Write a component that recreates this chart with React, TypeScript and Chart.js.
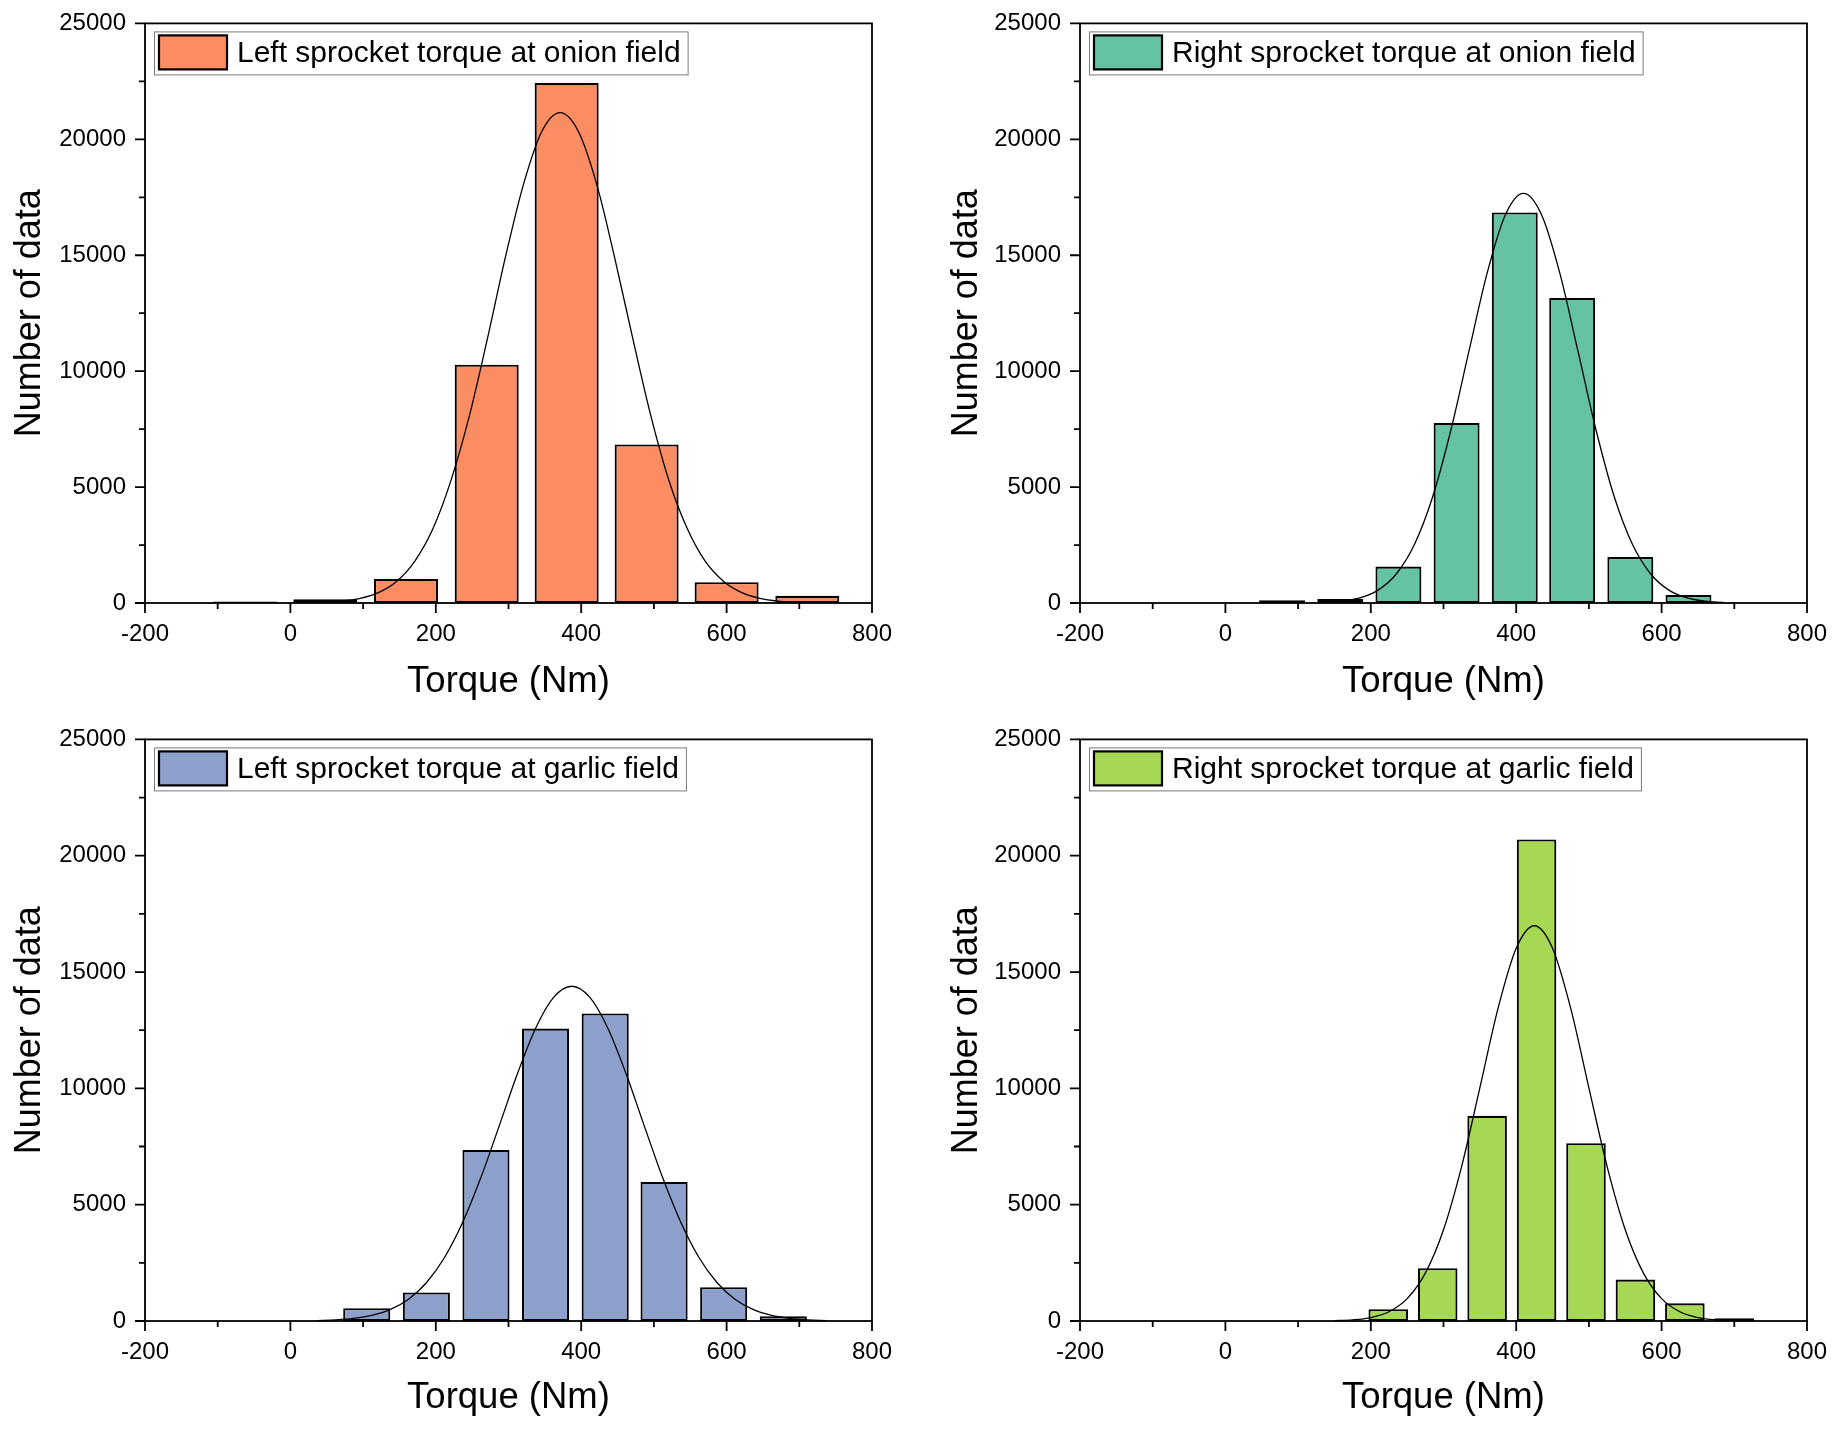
import React, { useEffect, useRef } from "react";
import { Chart, registerables } from "chart.js";

Chart.register(...registerables);

// ---- tick labels ----
const xMajorTicks = [-200, 0, 200, 400, 600, 800];
const xMinorTicks = [-100, 100, 300, 500, 700];
const yMajorTicks = [0, 5000, 10000, 15000, 20000, 25000];
const yMinorTicks = [2500, 7500, 12500, 17500, 22500];

const xAxisTitle = "Torque (Nm)";
const yAxisTitle = "Number of data";

// ---- Left sprocket, onion field ----
const leftOnionLabel = "Left sprocket torque at onion field";
const leftOnionBins = [-62, 48, 159, 270, 380, 490, 600, 711];
const leftOnionCounts = [70, 160, 1040, 10280, 22430, 6840, 900, 310];
const leftOnionFitX = [46, 71, 96, 121, 146, 171, 196, 221, 246, 271, 296, 321, 346, 371, 396, 421, 446, 471, 496, 521, 546, 571, 596, 621, 646, 671, 696];
const leftOnionFitY = [30, 80, 200, 450, 930, 1800, 3200, 5300, 8050, 11400, 14950, 18100, 20350, 21150, 20350, 18100, 14900, 11400, 8050, 5250, 3200, 1780, 930, 450, 200, 80, 30];

// ---- Right sprocket, onion field ----
const rightOnionLabel = "Right sprocket torque at onion field";
const rightOnionBins = [78, 158, 238, 318, 398, 477, 557, 637];
const rightOnionCounts = [120, 175, 1570, 7765, 16845, 13160, 1980, 350];
const rightOnionFitX = [135, 160, 185, 210, 235, 260, 285, 310, 335, 360, 385, 410, 435, 460, 485, 510, 535, 560, 585, 610, 635, 660, 685];
const rightOnionFitY = [25, 80, 220, 555, 1250, 2520, 4570, 7440, 10860, 14230, 16740, 17670, 16740, 14230, 10860, 7440, 4570, 2520, 1250, 555, 220, 80, 25];

// ---- Left sprocket, garlic field ----
const leftGarlicLabel = "Left sprocket torque at garlic field";
const leftGarlicBins = [105, 187, 269, 351, 433, 514, 596, 678];
const leftGarlicCounts = [550, 1230, 7350, 12570, 13220, 5980, 1450, 200];
const leftGarlicFitX = [37, 62, 87, 112, 137, 162, 187, 212, 237, 262, 287, 312, 337, 362, 387, 412, 437, 462, 487, 512, 537, 562, 587, 612, 637, 662, 687, 712, 737];
const leftGarlicFitY = [19, 47, 110, 240, 485, 925, 1645, 2730, 4245, 6165, 8365, 10605, 12565, 13910, 14390, 13910, 12565, 10605, 8365, 6165, 4245, 2730, 1645, 925, 485, 240, 110, 47, 19];

// ---- Right sprocket, garlic field ----
const rightGarlicLabel = "Right sprocket torque at garlic field";
const rightGarlicBins = [224, 292, 360, 428, 496, 564, 632, 700];
const rightGarlicCounts = [510, 2270, 8820, 20700, 7640, 1780, 760, 120];
const rightGarlicFitX = [150, 175, 200, 225, 250, 275, 300, 325, 350, 375, 400, 425, 450, 475, 500, 525, 550, 575, 600, 625, 650, 675, 700];
const rightGarlicFitY = [14, 48, 147, 398, 960, 2058, 3923, 6649, 10022, 13437, 16022, 16990, 16022, 13437, 10022, 6649, 3923, 2058, 960, 398, 147, 48, 14];

const FONT = '"Liberation Sans", Arial, sans-serif';

type Panel = {
  label: string;
  color: string;
  bins: number[];
  counts: number[];
  fitX: number[];
  fitY: number[];
  left: number;
  right: number;
  top: number;
  xAxisHeight: number;
  yTitlePad: number;
};

const panels: Panel[] = [
  { label: leftOnionLabel, color: "#FC8D62", bins: leftOnionBins, counts: leftOnionCounts, fitX: leftOnionFitX, fitY: leftOnionFitY, left: 145, right: 48, top: 21, xAxisHeight: 113, yTitlePad: 8 },
  { label: rightOnionLabel, color: "#66C2A5", bins: rightOnionBins, counts: rightOnionCounts, fitX: rightOnionFitX, fitY: rightOnionFitY, left: 160, right: 33, top: 21, xAxisHeight: 113, yTitlePad: 25 },
  { label: leftGarlicLabel, color: "#8DA0CB", bins: leftGarlicBins, counts: leftGarlicCounts, fitX: leftGarlicFitX, fitY: leftGarlicFitY, left: 145, right: 48, top: 22, xAxisHeight: 111, yTitlePad: 8 },
  { label: rightGarlicLabel, color: "#A6D854", bins: rightGarlicBins, counts: rightGarlicCounts, fitX: rightGarlicFitX, fitY: rightGarlicFitY, left: 160, right: 33, top: 22, xAxisHeight: 111, yTitlePad: 25 },
];

const framePlugin = {
  id: "frameTicks",
  afterDatasetsDraw(chart: any) {
    const { ctx, chartArea } = chart;
    const { left, right, top, bottom } = chartArea;
    const xs = chart.scales.x;
    const ys = chart.scales.y;
    ctx.save();
    ctx.strokeStyle = "#000";
    ctx.lineWidth = 1.8;
    ctx.strokeRect(left, top, right - left, bottom - top);
    ctx.beginPath();
    for (const v of xMajorTicks) {
      const p = xs.getPixelForValue(v);
      ctx.moveTo(p, bottom);
      ctx.lineTo(p, bottom + 10);
    }
    for (const v of xMinorTicks) {
      const p = xs.getPixelForValue(v);
      ctx.moveTo(p, bottom);
      ctx.lineTo(p, bottom + 6);
    }
    for (const v of yMajorTicks) {
      const p = ys.getPixelForValue(v);
      ctx.moveTo(left, p);
      ctx.lineTo(left - 10, p);
    }
    for (const v of yMinorTicks) {
      const p = ys.getPixelForValue(v);
      ctx.moveTo(left, p);
      ctx.lineTo(left - 6, p);
    }
    ctx.stroke();
    ctx.restore();
  },
};

const boxLegendPlugin = {
  id: "boxLegend",
  afterDraw(chart: any, _args: any, opts: any) {
    const { ctx, chartArea } = chart;
    const x0 = chartArea.left + 9;
    const y0 = chartArea.top + 8;
    const h = 43;
    ctx.save();
    ctx.font = `30px ${FONT}`;
    const tw = ctx.measureText(opts.text).width;
    const sx = x0 + 5;
    const sy = y0 + 4;
    const sw = 68;
    const sh = 34;
    const tx = sx + sw + 10;
    const w = tx + tw + 7 - x0;
    ctx.fillStyle = "#fff";
    ctx.fillRect(x0, y0, w, h);
    ctx.strokeStyle = "#7a7a7a";
    ctx.lineWidth = 1;
    ctx.strokeRect(x0 + 0.5, y0 + 0.5, w, h);
    ctx.fillStyle = opts.color;
    ctx.fillRect(sx, sy, sw, sh);
    ctx.strokeStyle = "#000";
    ctx.lineWidth = 2.2;
    ctx.strokeRect(sx, sy, sw, sh);
    ctx.fillStyle = "#000";
    ctx.textBaseline = "middle";
    ctx.textAlign = "left";
    ctx.fillText(opts.text, tx, y0 + h / 2 + 1);
    ctx.restore();
  },
};

function HistPanel({ panel }: { panel: Panel }) {
  const ref = useRef<HTMLCanvasElement | null>(null);
  useEffect(() => {
    if (!ref.current) return;
    const barData = panel.bins.map((b, i) => ({ x: b, y: panel.counts[i] }));
    const fitData = panel.fitX.map((x, i) => ({ x, y: panel.fitY[i] }));
    const chart = new Chart(ref.current, {
      type: "bar",
      data: {
        datasets: [
          {
            type: "line",
            label: "fit",
            data: fitData,
            borderColor: "#000",
            borderWidth: 1.3,
            pointRadius: 0,
            fill: false,
            cubicInterpolationMode: "monotone",
            order: 0,
          } as any,
          {
            type: "bar",
            label: panel.label,
            data: barData,
            backgroundColor: panel.color,
            borderColor: "#000",
            borderWidth: 2.1,
            borderSkipped: false,
            categoryPercentage: 0.8,
            barPercentage: 1,
            order: 1,
          } as any,
        ],
      },
      options: {
        animation: false,
        responsive: false,
        layout: { padding: { left: 0, top: panel.top, right: panel.right, bottom: 0 } },
        plugins: {
          legend: { display: false },
          tooltip: { enabled: false },
          boxLegend: { text: panel.label, color: panel.color },
        } as any,
        scales: {
          x: {
            type: "linear",
            min: -200,
            max: 800,
            offset: false,
            grid: { display: false, drawTicks: true, tickLength: 10, offset: false },
            border: { display: false },
            afterBuildTicks: (scale: any) => {
              scale.ticks = xMajorTicks.map((v) => ({ value: v }));
            },
            afterFit: (scale: any) => {
              scale.height = panel.xAxisHeight;
            },
            ticks: {
              autoSkip: false,
              maxRotation: 0,
              minRotation: 0,
              padding: 7,
              color: "#000",
              font: { family: FONT, size: 24 },
              callback: (v: any) => String(v),
            },
            title: {
              display: true,
              text: xAxisTitle,
              color: "#000",
              font: { family: FONT, size: 36.5 },
              padding: { top: 0, bottom: 12 },
            },
          },
          y: {
            type: "linear",
            min: 0,
            max: 25000,
            grid: { display: false, drawTicks: true, tickLength: 10 },
            border: { display: false },
            afterBuildTicks: (scale: any) => {
              scale.ticks = yMajorTicks.map((v) => ({ value: v }));
            },
            afterFit: (scale: any) => {
              scale.width = panel.left;
            },
            ticks: {
              autoSkip: false,
              padding: 9,
              color: "#000",
              font: { family: FONT, size: 24 },
              callback: (v: any) => String(v),
            },
            title: {
              display: true,
              text: yAxisTitle,
              color: "#000",
              font: { family: FONT, size: 36 },
              padding: { top: panel.yTitlePad, bottom: 0 },
            },
          },
        },
      } as any,
      plugins: [framePlugin, boxLegendPlugin],
    });
    return () => chart.destroy();
  }, [panel]);
  return <canvas ref={ref} width={920} height={716} style={{ display: "block", width: 920, height: 716 }} />;
}

export default function App() {
  useEffect(() => {
    document.body.style.margin = "0";
    document.body.style.background = "#fff";
  }, []);
  return (
    <div
      style={{
        display: "grid",
        gridTemplateColumns: "920px 920px",
        gridTemplateRows: "716px 716px",
        width: 1840,
        height: 1432,
        background: "#fff",
      }}
    >
      {panels.map((p) => (
        <HistPanel key={p.label} panel={p} />
      ))}
    </div>
  );
}
